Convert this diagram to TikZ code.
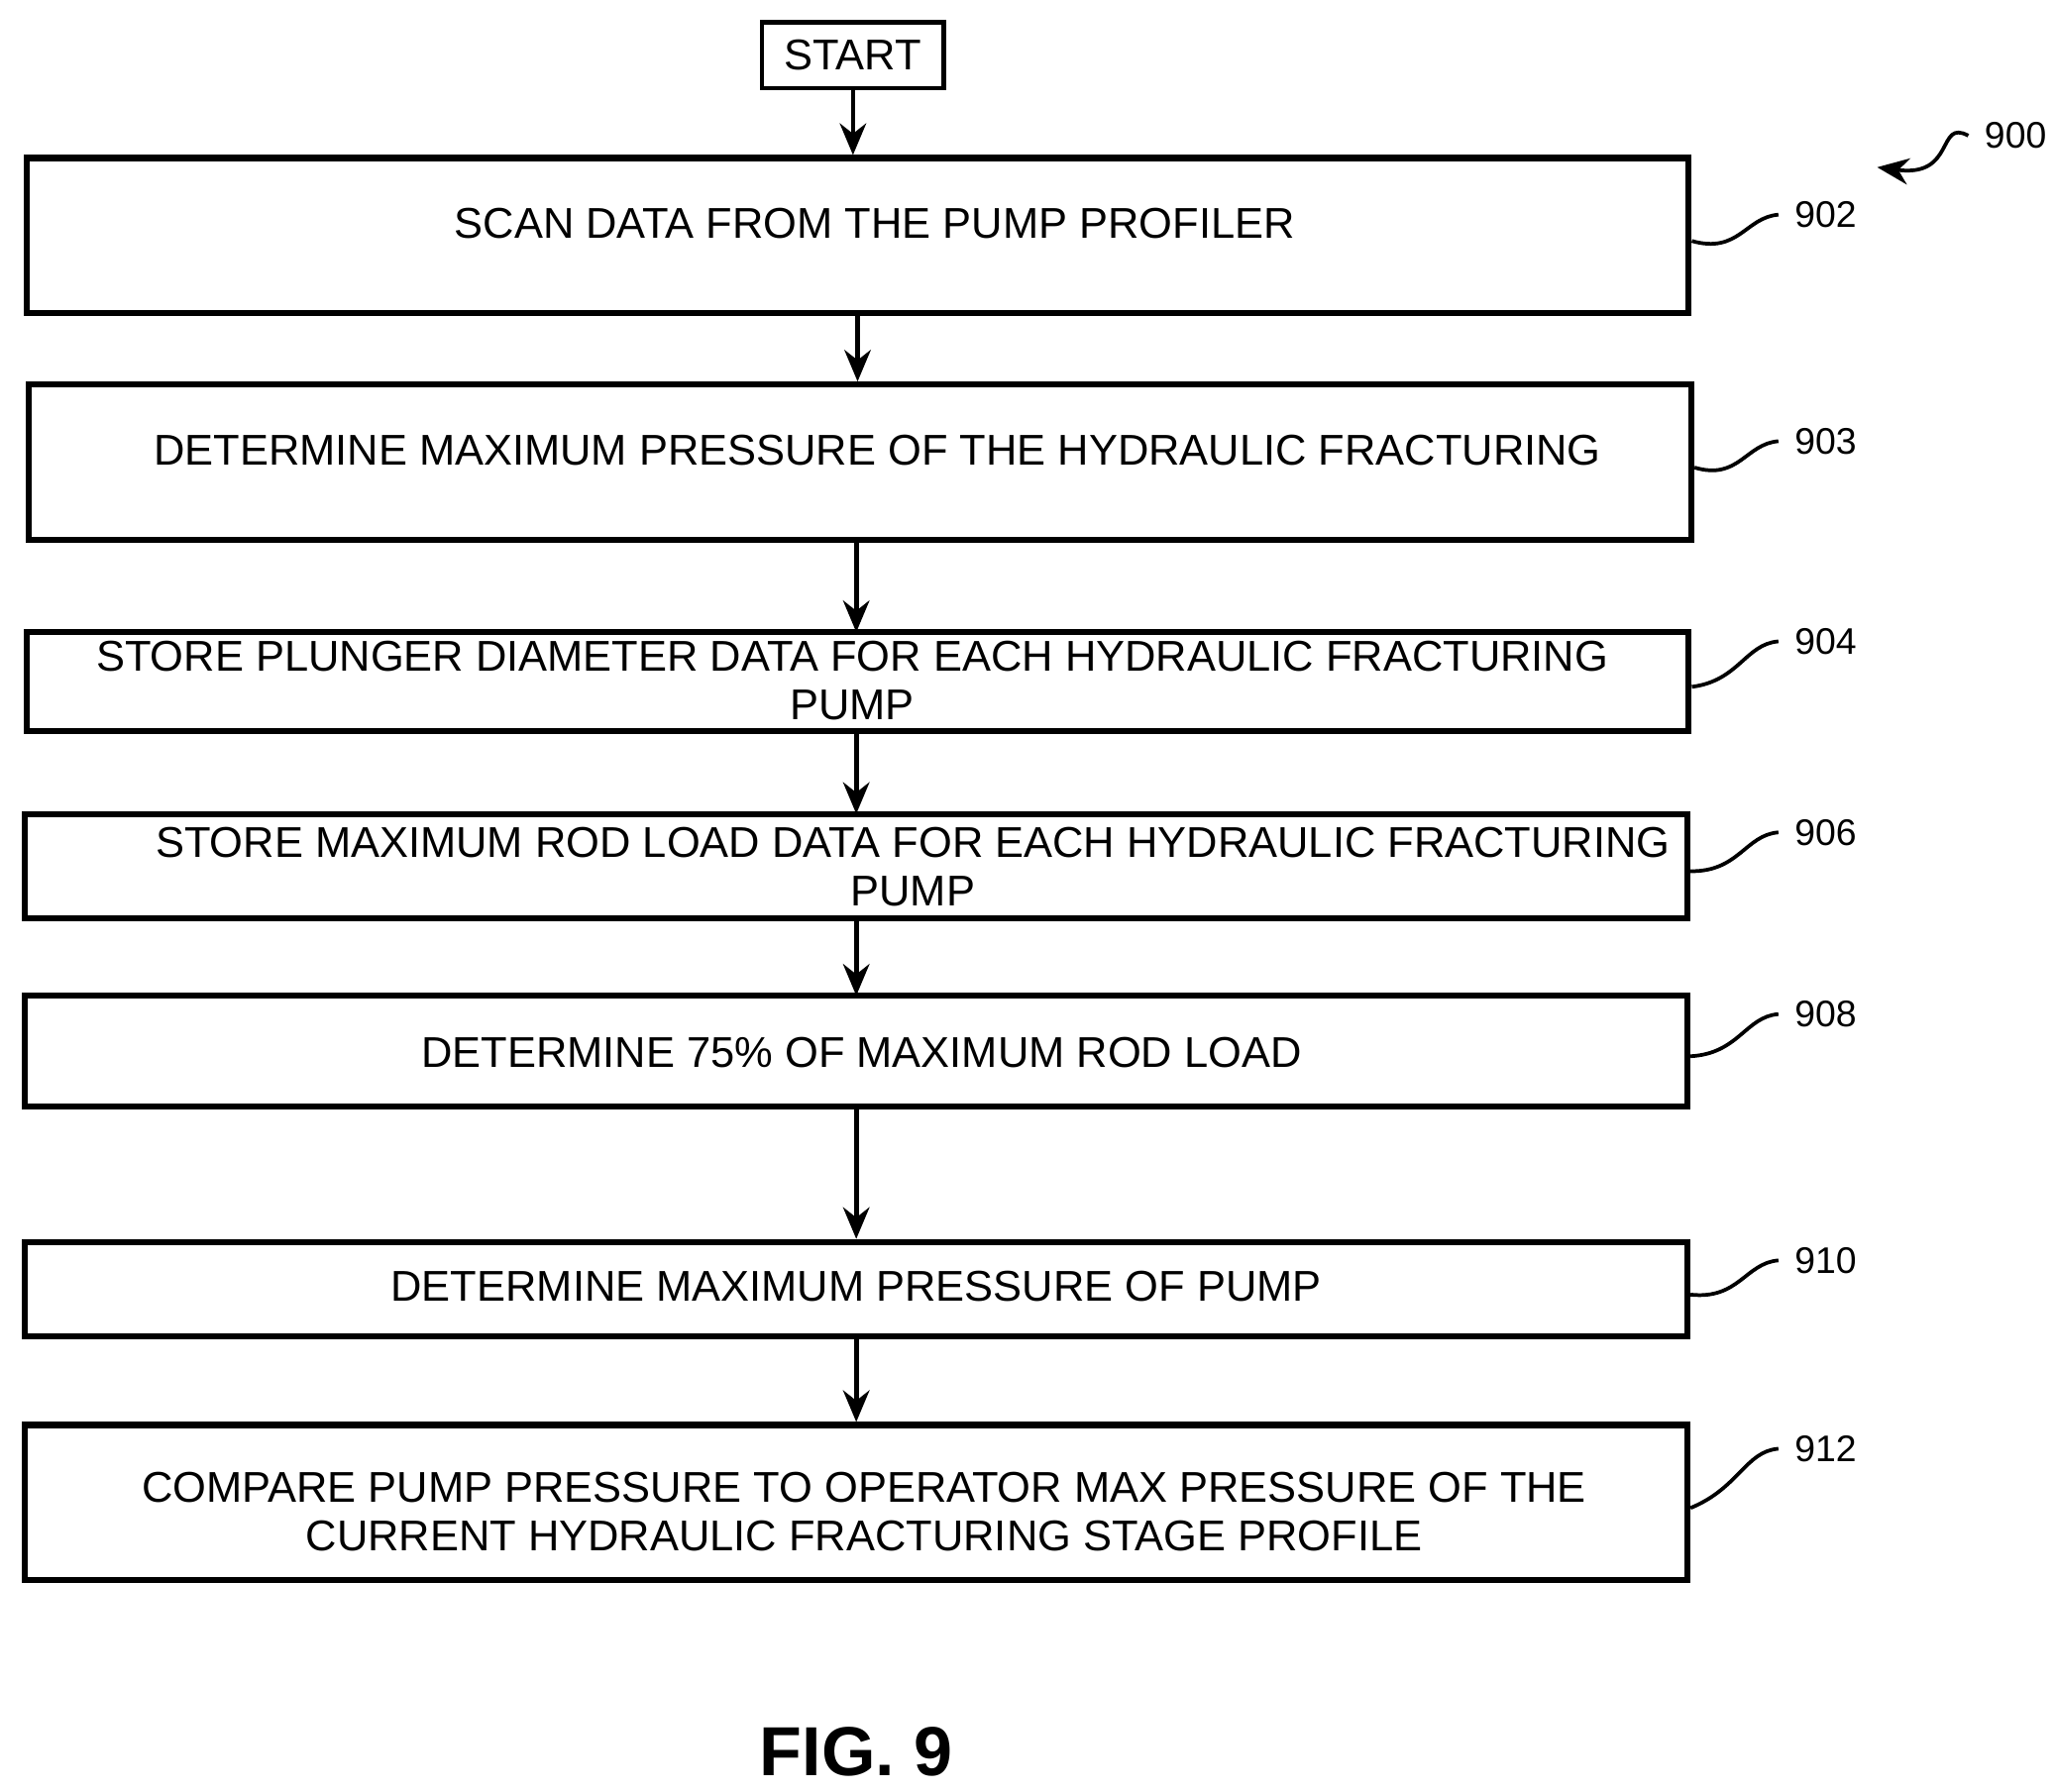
\documentclass[tikz,border=0pt]{standalone}
\usepackage{fontspec}
\setmainfont{Liberation Sans}
\usetikzlibrary{arrows.meta}
\tikzset{
  box/.style={draw, line width=1.3pt, rectangle, minimum width=12.62cm, inner sep=0pt,
    font=\fontsize{9.3}{10.5}\selectfont},
  txt/.style={align=center, font=\fontsize{9.3}{10.5}\selectfont},
  num/.style={font=\fontsize{8}{9}\selectfont},
  flow/.style={-{Stealth[length=2.4mm,width=2mm]}, line width=1pt},
}
\begin{document}
\begin{tikzpicture}
\useasboundingbox (0,0) rectangle (15.6,-13.6);
\node[draw, line width=1pt, minimum width=1.38cm, minimum height=0.5cm, font=\fontsize{9.3}{10}\selectfont] (S) at (6.475,-0.42) {START};
\node[box, minimum height=1.18cm] (A) at (6.51,-1.79) {};
\node[txt] (At) at (6.64,-1.70) {SCAN DATA FROM THE PUMP PROFILER};
\node[box, minimum height=1.18cm] (B) at (6.53,-3.51) {};
\node[txt] (Bt) at (6.66,-3.42) {DETERMINE MAXIMUM PRESSURE OF THE HYDRAULIC FRACTURING};
\node[box, minimum height=0.75cm] (C) at (6.51,-5.175) {};
\node[txt] (Ct) at (6.47,-5.17) {STORE PLUNGER DIAMETER DATA FOR EACH HYDRAULIC FRACTURING\\PUMP};
\node[box, minimum height=0.79cm] (D) at (6.50,-6.575) {};
\node[txt] (Dt) at (6.93,-6.58) {STORE MAXIMUM ROD LOAD DATA FOR EACH HYDRAULIC FRACTURING\\PUMP};
\node[box, minimum height=0.84cm] (E) at (6.50,-7.98) {};
\node[txt] (Et) at (6.54,-7.99) {DETERMINE 75\% OF MAXIMUM ROD LOAD};
\node[box, minimum height=0.72cm] (F) at (6.50,-9.79) {};
\node[txt] (Ft) at (6.50,-9.77) {DETERMINE MAXIMUM PRESSURE OF PUMP};
\node[box, minimum height=1.18cm] (G) at (6.50,-11.41) {};
\node[txt] (Gt) at (6.56,-11.48) {COMPARE PUMP PRESSURE TO OPERATOR MAX PRESSURE OF THE\\CURRENT HYDRAULIC FRACTURING STAGE PROFILE};
% arrows between steps
\draw[flow] (S) -- (S |- A.north);
\draw[flow] (A) -- (A |- B.north);
\draw[flow] (6.50,-4.10) -- (6.50,-4.80);
\draw[flow] (6.50,-5.55) -- (6.50,-6.18);
\draw[flow] (6.50,-6.97) -- (6.50,-7.56);
\draw[flow] (E) -- (E |- F.north);
\draw[flow] (F) -- (F |- G.north);
% reference numbers
\foreach \n/\b/\y in {902/A/1.63, 903/B/3.35, 904/C/4.87, 906/D/6.32, 908/E/7.70, 910/F/9.57, 912/G/11.00}{
  \node[num, anchor=west] (n\n) at (13.50,-\y) {\n};
  \draw[line width=0.8pt] (\b.east) ++(0,-0.04) .. controls (13.2,-\y-0.30) and (13.25,-\y-0.02) .. (n\n.west);
}
\node[num] (n900) at (15.30,-1.03) {900};
\draw[-{Stealth[length=2.4mm,width=2mm]}, line width=0.8pt] (n900.west) .. controls (14.7,-0.9) and (14.85,-1.35) .. (14.25,-1.27);
\node[font=\bfseries\fontsize{15}{17}\selectfont] (fig) at (6.50,-13.30) {FIG. 9};
\end{tikzpicture}
\end{document}
